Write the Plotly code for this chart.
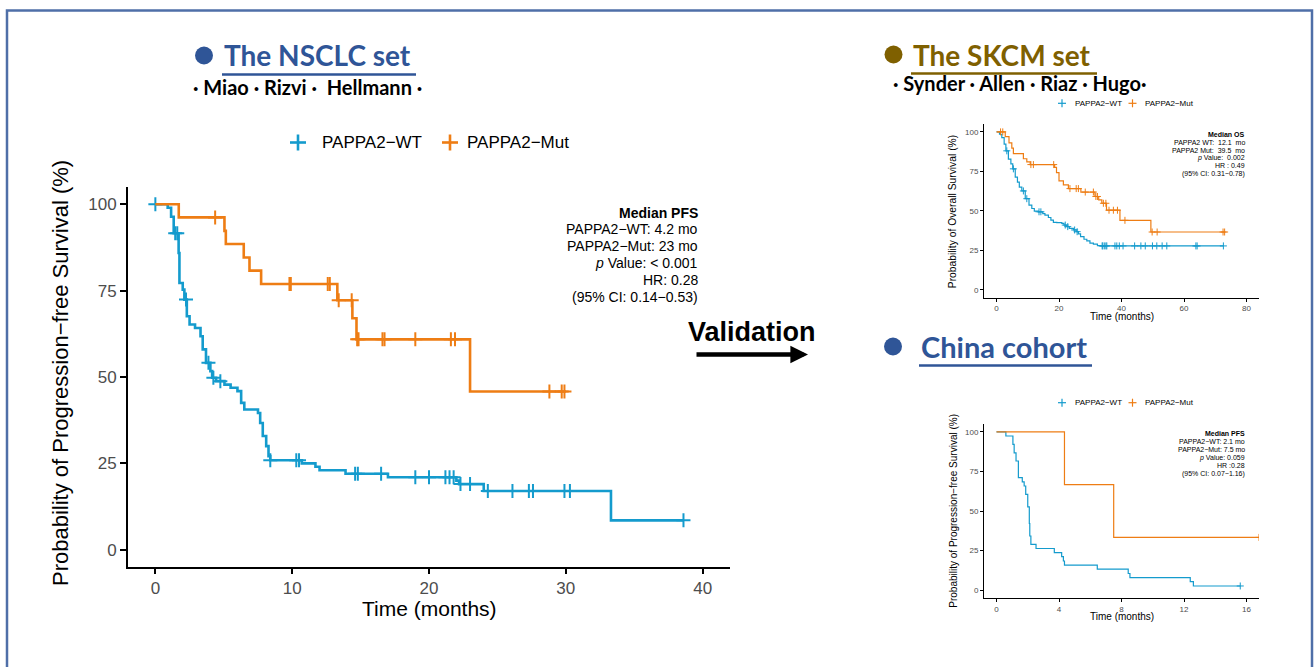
import numpy as np
import plotly.graph_objects as go

W, H = 1314, 667

# ---------------- data ----------------
# NSCLC set (Miao, Rizvi, Hellmann): progression-free survival, %
nsclc_wt_time = [0, 0.9, 1.15, 1.34, 1.7, 1.76, 2.0, 2.12, 2.3, 2.5, 2.9, 3.3, 3.46, 3.7, 4.02,
                 4.15, 4.44, 5.05, 5.5, 6.0, 6.27, 6.5, 7.5, 7.66, 7.85, 8.1, 8.27, 8.4, 10.7,
                 11.7, 12.0, 13.9, 17.0, 22.0, 22.2, 24.0, 33.3, 38.6]
nsclc_wt_surv = [100, 99.0, 96.4, 91.6, 85.9, 77.2, 75.3, 72.4, 67.6, 65.2, 64.2, 61.8, 58.0, 54.1, 51.7,
                 49.8, 48.8, 47.8, 46.9, 45.9, 42.5, 40.6, 39.6, 36.7, 32.9, 30.0, 27.1, 25.9, 25.0,
                 24.0, 23.0, 22.0, 21.0, 20.0, 19.0, 17.0, 8.5, 8.5]
nsclc_wt_censor = [0, 1.45, 1.6, 2.24, 3.88, 4.24, 4.75, 8.4, 10.3, 10.5, 14.6, 14.8, 16.5, 19.0, 20.0,
                   21.2, 21.5, 21.8, 22.3, 23.0, 24.3, 26.1, 27.3, 27.6, 29.9, 30.3, 38.6]

nsclc_mut_time = [0, 1.71, 5.05, 5.15, 6.46, 6.88, 7.73, 13.3, 14.4, 14.7, 23.0, 30.0]
nsclc_mut_surv = [100, 96.2, 92.3, 88.5, 84.6, 80.8, 76.9, 72.2, 67.0, 60.9, 45.8, 45.8]
nsclc_mut_censor = [4.37, 9.8, 9.9, 12.6, 12.75, 13.4, 14.35, 14.75, 14.85, 16.6, 16.75, 19.0,
                    21.6, 21.9, 28.8, 29.7, 29.9]

# SKCM set (Synder, Allen, Riaz, Hugo): overall survival, %
skcm_wt_time = [0, 0.96, 1.7, 2.45, 3.0, 3.8, 4.6, 5.2, 6.0, 6.7, 7.3, 8.1, 9.2, 10.4, 11.3, 12.1,
                13.4, 14.8, 15.5, 16.6, 17.4, 18.2, 19.3, 20.9, 21.6, 22.5, 23.3, 24.6, 25.5, 26.2,
                26.9, 28.0, 28.9, 29.9, 31.0, 32.3, 33.3, 72.6]
skcm_wt_surv = [100, 98.5, 96.4, 92.3, 88.0, 82.8, 79.7, 76.6, 71.3, 68.2, 65.0, 62.6, 57.7, 53.6, 51.5, 49.8,
                49.4, 48.3, 47.3, 45.8, 44.1, 42.7, 42.5, 42.1, 41.0, 40.0, 38.9, 37.9, 36.8, 35.4,
                33.7, 32.0, 31.0, 29.5, 28.9, 28.0, 27.8, 27.8]
skcm_wt_censor = [3.3, 5.4, 8.6, 9.7, 13.6, 14.2, 22.0, 22.8, 25.0, 25.8, 33.8, 34.0, 34.5, 35.0, 35.3,
                  37.9, 38.5, 39.3, 40.5, 44.2, 46.2, 47.6, 49.9, 51.3, 53.0, 54.5, 63.8, 64.2, 72.6]

skcm_mut_time = [0, 2.8, 4.0, 4.9, 5.4, 8.6, 9.7, 10.8, 18.6, 19.2, 20.0, 21.4, 23.0, 27.0, 31.5,
                 32.7, 33.7, 35.2, 39.5, 49.4, 73.0]
skcm_mut_surv = [100, 97.0, 93.0, 89.7, 86.3, 83.0, 81.0, 79.3, 77.5, 74.2, 69.0, 66.5, 64.1, 61.9, 59.1,
                 57.0, 54.8, 50.4, 44.0, 36.6, 36.6]
skcm_mut_censor = [1.3, 2.0, 11.0, 11.8, 18.3, 23.5, 25.5, 26.2, 28.4, 31.0, 31.8, 32.3, 34.2, 35.0,
                   36.0, 37.4, 38.7, 41.1, 49.8, 51.4, 72.5, 73.0]

# China cohort: progression-free survival, %
china_wt_time = [0, 0.6, 1.05, 1.13, 1.25, 1.4, 1.65, 1.77, 1.87, 2.0, 2.1, 2.13, 2.2, 2.53, 3.7,
                 4.17, 4.28, 4.35, 6.45, 8.43, 8.54, 12.4, 12.6, 15.6]
china_wt_surv = [100, 97.4, 92.1, 86.8, 81.6, 71.1, 68.4, 65.8, 60.5, 52.6, 42.1, 34.2, 28.9, 26.3, 23.7,
                 21.1, 18.4, 15.8, 13.2, 10.5, 7.9, 5.3, 2.6, 2.6]
china_wt_censor = [15.6]

china_mut_time = [0, 4.35, 7.5, 16.8]
china_mut_surv = [100, 66.7, 33.3, 33.3]
china_mut_censor = [16.8]

group_labels = ["PAPPA2−WT", "PAPPA2−Mut"]
group_colors = ["#149BCD", "#EE7D14"]

nsclc_stats = ["<b>Median PFS</b>", "PAPPA2−WT: 4.2 mo", "PAPPA2−Mut: 23 mo",
               "<i>p</i> Value: &lt; 0.001", "HR: 0.28", "(95% CI: 0.14−0.53)"]
skcm_stats = ["<b>Median OS</b>", "PAPPA2 WT:\u00a0 12.1\u00a0 mo", "PAPPA2 Mut:\u00a0 39.5\u00a0 mo",
              "<i>p</i> Value:\u00a0 0.002", "HR : 0.49", "(95% CI: 0.31−0.78)"]
china_stats = ["<b>Median PFS</b>", "PAPPA2−WT: 2.1 mo", "PAPPA2−Mut: 7.5 mo",
               "<i>p</i> Value: 0.059", "HR :0.28", "(95% CI: 0.07−1.16)"]

nsclc_ticks_x = [0, 10, 20, 30, 40]
skcm_ticks_x = [0, 20, 40, 60, 80]
china_ticks_x = [0, 4, 8, 12, 16]
surv_ticks = [0, 25, 50, 75, 100]

# ---------------- helpers ----------------
def X(px):
    return px / W


def Y(py):
    return 1 - py / H


def surv_at(times, surv, t):
    i = np.searchsorted(np.asarray(times), t, side="right") - 1
    return surv[max(i, 0)]


fig = go.Figure()

panels = [
    # (time/surv/censor per group, axis suffix, line width, censor size, censor width)
    (((nsclc_wt_time, nsclc_wt_surv, nsclc_wt_censor), (nsclc_mut_time, nsclc_mut_surv, nsclc_mut_censor)), "", 2.6, 10, 2.0),
    (((skcm_wt_time, skcm_wt_surv, skcm_wt_censor), (skcm_mut_time, skcm_mut_surv, skcm_mut_censor)), "2", 1.2, 5, 1.0),
    (((china_wt_time, china_wt_surv, china_wt_censor), (china_mut_time, china_mut_surv, china_mut_censor)), "3", 1.2, 5, 1.0),
]

for groups, ax, lw, csize, cw in panels:
    for (t, s, c), name, col in zip(groups, group_labels, group_colors):
        fig.add_trace(go.Scatter(
            x=t, y=s, mode="lines", line=dict(color=col, width=lw, shape="hv"),
            name=name, showlegend=False, xaxis="x" + ax, yaxis="y" + ax, hoverinfo="skip"))
        fig.add_trace(go.Scatter(
            x=c, y=[surv_at(t, s, v) for v in c], mode="markers",
            marker=dict(symbol="cross-thin", size=csize, line=dict(color=col, width=cw)),
            showlegend=False, xaxis="x" + ax, yaxis="y" + ax, hoverinfo="skip"))

axis_common = dict(showgrid=False, zeroline=False, showline=True, linecolor="black",
                   ticks="outside", tickcolor="black", mirror=False)

tick_font_big = dict(family="Liberation Sans, Arial, sans-serif", size=17, color="#4D4D4D")
tick_font_small = dict(family="Liberation Sans, Arial, sans-serif", size=8, color="#4D4D4D")

fig.update_layout(
    width=W, height=H, margin=dict(l=0, r=0, t=0, b=0),
    paper_bgcolor="white", plot_bgcolor="white", showlegend=False,
    xaxis=dict(domain=[X(128), X(730)], range=[-2, 42], tickvals=nsclc_ticks_x, anchor="y",
               linewidth=2, tickwidth=2, ticklen=5, tickfont=tick_font_big, **axis_common),
    yaxis=dict(domain=[Y(567), Y(187)], range=[-5, 105], tickvals=surv_ticks, anchor="x",
               linewidth=2, tickwidth=2, ticklen=6, tickfont=tick_font_big, **axis_common),
    xaxis2=dict(domain=[X(984), X(1259)], range=[-4, 84], tickvals=skcm_ticks_x, anchor="y2",
                linewidth=1, tickwidth=1, ticklen=3, tickfont=tick_font_small, **axis_common),
    yaxis2=dict(domain=[Y(297.7), Y(124)], range=[-5, 105], tickvals=surv_ticks, anchor="x2",
                linewidth=1, tickwidth=1, ticklen=3, tickfont=tick_font_small, **axis_common),
    xaxis3=dict(domain=[X(984), X(1259)], range=[-0.8, 16.8], tickvals=china_ticks_x, anchor="y3",
                linewidth=1, tickwidth=1, ticklen=3, tickfont=tick_font_small, **axis_common),
    yaxis3=dict(domain=[Y(598), Y(424)], range=[-5, 105], tickvals=surv_ticks, anchor="x3",
                linewidth=1, tickwidth=1, ticklen=3, tickfont=tick_font_small, **axis_common),
)

shapes = []
annotations = []
SANS = "Liberation Sans, Arial, sans-serif"
HEAD = "Lato, Open Sans, sans-serif"


def text(px, py, s, size, color="black", family=SANS, xanchor="center", angle=0):
    annotations.append(dict(x=X(px), y=Y(py), xref="paper", yref="paper", text=s,
                            showarrow=False, xanchor=xanchor, yanchor="middle",
                            textangle=angle, font=dict(family=family, size=size, color=color)))


def legend(py, plus_x, text_x, size, half, width):
    for px, tx, name, col in zip(plus_x, text_x, group_labels, group_colors):
        for dx0, dx1, dy0, dy1 in [(-half, half, 0, 0), (0, 0, -half, half)]:
            shapes.append(dict(type="line", xref="paper", yref="paper",
                               xsizemode="pixel", ysizemode="pixel",
                               xanchor=X(px), yanchor=Y(py),
                               x0=dx0, x1=dx1, y0=dy0, y1=dy1,
                               line=dict(color=col, width=width)))
        text(tx, py, name, size, xanchor="left")


def stats_block(right_px, top_py, step, lines, size):
    for k, s in enumerate(lines):
        text(right_px, top_py + k * step, s, size, xanchor="right")


def header(bullet_x, py, text_x, underline_end, title, color, size):
    shapes.append(dict(type="circle", xref="paper", yref="paper",
                       xsizemode="pixel", ysizemode="pixel",
                       xanchor=X(bullet_x), yanchor=Y(py),
                       x0=-9, x1=9, y0=-9, y1=9,
                       fillcolor=color, line=dict(width=0)))
    text(text_x, py, f"<b>{title}</b>", size, color=color, family=HEAD, xanchor="left")
    shapes.append(dict(type="line", xref="paper", yref="paper",
                       x0=X(text_x), x1=X(underline_end), y0=Y(py + 19), y1=Y(py + 19),
                       line=dict(color=color, width=2.6)))


# outer frame
shapes.append(dict(type="rect", xref="paper", yref="paper", x0=X(7), x1=X(1312), y0=Y(700), y1=Y(10.5),
                   line=dict(color="#4F6FA8", width=2.5), fillcolor="rgba(0,0,0,0)"))

# NSCLC panel
header(204, 55.5, 222, 416, "The NSCLC set", "#2F5597", 28)
text(307, 87, "<b>· Miao · Rizvi ·  Hellmann ·</b>", 20, family=HEAD)
legend(142.5, [298, 450], [320, 465], 17, 8, 2.6)
stats_block(700, 212.7, 16.8, nsclc_stats, 14)
text(60, 373, "Probability of Progression−free Survival (%)", 22, angle=-90)
text(429, 608, "Time (months)", 21)

# SKCM panel
header(893.5, 54.5, 911, 1097, "The SKCM set", "#7F6000", 28)
text(1019, 83, "<b>· Synder · Allen · Riaz · Hugo·</b>", 20, family=HEAD)
legend(103.3, [1062, 1132.5], [1073, 1142.5], 8, 4, 1.2)
stats_block(1246.7, 134.3, 7.9, skcm_stats, 7)
text(952.7, 211.5, "Probability of Overall Survival (%)", 10.3, angle=-90)
text(1121.5, 316.7, "Time (months)", 10)

# China cohort panel
header(893, 346.5, 919, 1092, "China cohort", "#2F5597", 29)
legend(402.7, [1062, 1132.5], [1073, 1142.5], 8, 4, 1.2)
stats_block(1246.7, 433.7, 8.0, china_stats, 7)
text(952.7, 511, "Probability of Progression−free Survival (%)", 10, angle=-90)
text(1121.5, 616.7, "Time (months)", 10)

# validation arrow between panels
text(752, 332, "<b>Validation</b>", 27)
annotations.append(dict(x=X(808), y=Y(354.5), xref="paper", yref="paper", text="",
                        showarrow=True, ax=-113, ay=0, arrowhead=2, arrowsize=0.75,
                        arrowwidth=4.7, arrowcolor="black"))

fig.update_layout(shapes=shapes, annotations=annotations)
fig.write_html("out.html")
